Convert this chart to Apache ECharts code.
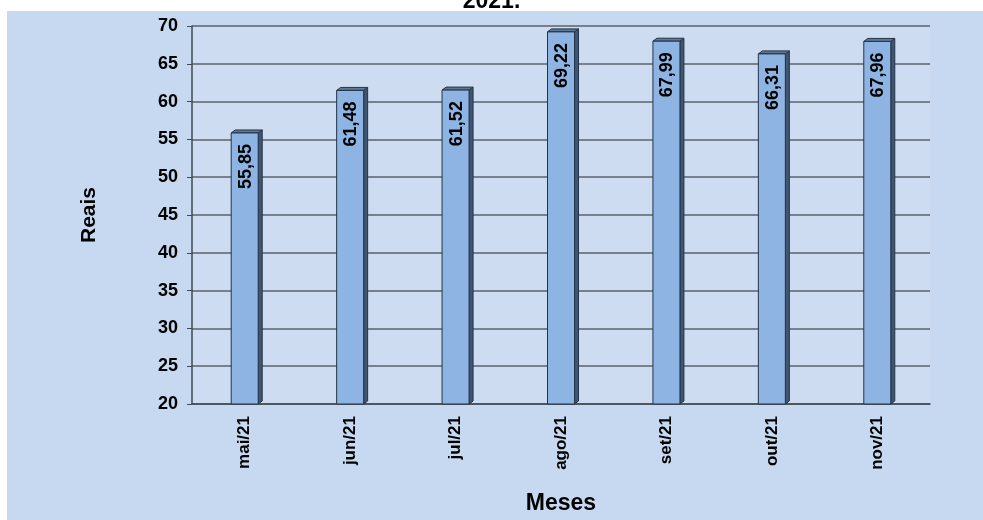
<!DOCTYPE html>
<html><head><meta charset="utf-8">
<script src="https://cdn.jsdelivr.net/npm/echarts@6/dist/echarts.min.js"></script>
<style>html,body{margin:0;padding:0;background:#fff}#c{width:983px;height:520px}</style>
</head><body><div id="c"></div>
<script>
const categories = ['mai/21','jun/21','jul/21','ago/21','set/21','out/21','nov/21'];
const values = [55.85, 61.48, 61.52, 69.22, 67.99, 66.31, 67.96];
const yTicks = [20,25,30,35,40,45,50,55,60,65,70];

const chart = echarts.init(document.getElementById('c'));
const FONT = '"Liberation Sans", Arial, sans-serif';
chart.setOption({
  backgroundColor: '#ffffff',
  animation: false,
  graphic: [{
    type: 'rect', z: -10, silent: true,
    shape: { x: 7, y: 11, width: 976, height: 509 },
    style: { fill: '#c6d9f1' }
  }],
  title: {
    text: '2021.', left: 'center', top: -15,
    textStyle: { fontFamily: FONT, fontWeight: 'bold', fontSize: 23, color: '#000' }
  },
  grid: { left: 192, right: 53, top: 26, bottom: 111, show: true, backgroundColor: '#cddcf0', borderWidth: 0 },
  xAxis: {
    type: 'category', data: categories,
    name: 'Meses', nameLocation: 'middle', nameGap: 88,
    nameTextStyle: { fontFamily: FONT, fontWeight: 'bold', fontSize: 23, color: '#000' },
    axisLine: { lineStyle: { color: '#3f4a57', width: 1.5 } },
    axisTick: { show: false },
    axisLabel: { rotate: 90, fontFamily: FONT, fontWeight: 'bold', fontSize: 17, color: '#000', margin: 12 }
  },
  yAxis: {
    type: 'value', min: yTicks[0], max: yTicks[yTicks.length-1], interval: 5,
    name: 'Reais', nameLocation: 'middle', nameGap: 92, nameRotate: 90,
    nameTextStyle: { fontFamily: FONT, fontWeight: 'bold', fontSize: 21, color: '#000' },
    axisLine: { show: true, lineStyle: { color: '#3f4a57', width: 1.5 } },
    axisTick: { show: true, length: 5, lineStyle: { color: '#3f4a57' } },
    axisLabel: { fontFamily: FONT, fontWeight: 'bold', fontSize: 18, color: '#000', margin: 14 },
    splitLine: { lineStyle: { color: '#59626e', width: 1.5 } }
  },
  series: [{
    type: 'custom',
    data: values.map((v, i) => [i, v]),
    renderItem: function (params, api) {
      const i = api.value(0), v = api.value(1);
      const top = api.coord([i, v]);
      const base = api.coord([i, yTicks[0]]);
      const w = 27, dx = 4, dy = 3;
      const xl = top[0] - w / 2, xr = top[0] + w / 2;
      const label = v.toFixed(2).replace('.', ',');
      return {
        type: 'group',
        children: [
          { type: 'polygon', shape: { points: [[xr, top[1]], [xr + dx, top[1] - dy], [xr + dx, base[1] - dy], [xr, base[1]]] },
            style: { fill: '#3f5572', stroke: '#243447', lineWidth: 1 } },
          { type: 'polygon', shape: { points: [[xl, top[1]], [xl + dx, top[1] - dy], [xr + dx, top[1] - dy], [xr, top[1]]] },
            style: { fill: '#5f7896', stroke: '#243447', lineWidth: 1 } },
          { type: 'rect', shape: { x: xl, y: top[1], width: w, height: base[1] - top[1] },
            style: { fill: '#8db4e2', stroke: '#243447', lineWidth: 1 } },
          { type: 'text', x: top[0] + 1, y: top[1] + 11, rotation: Math.PI / 2,
            style: { text: label, fontFamily: FONT, fontWeight: 'bold', fontSize: 18, fill: '#000',
                     align: 'right', verticalAlign: 'middle' } }
        ]
      };
    }
  }]
});
</script></body></html>
